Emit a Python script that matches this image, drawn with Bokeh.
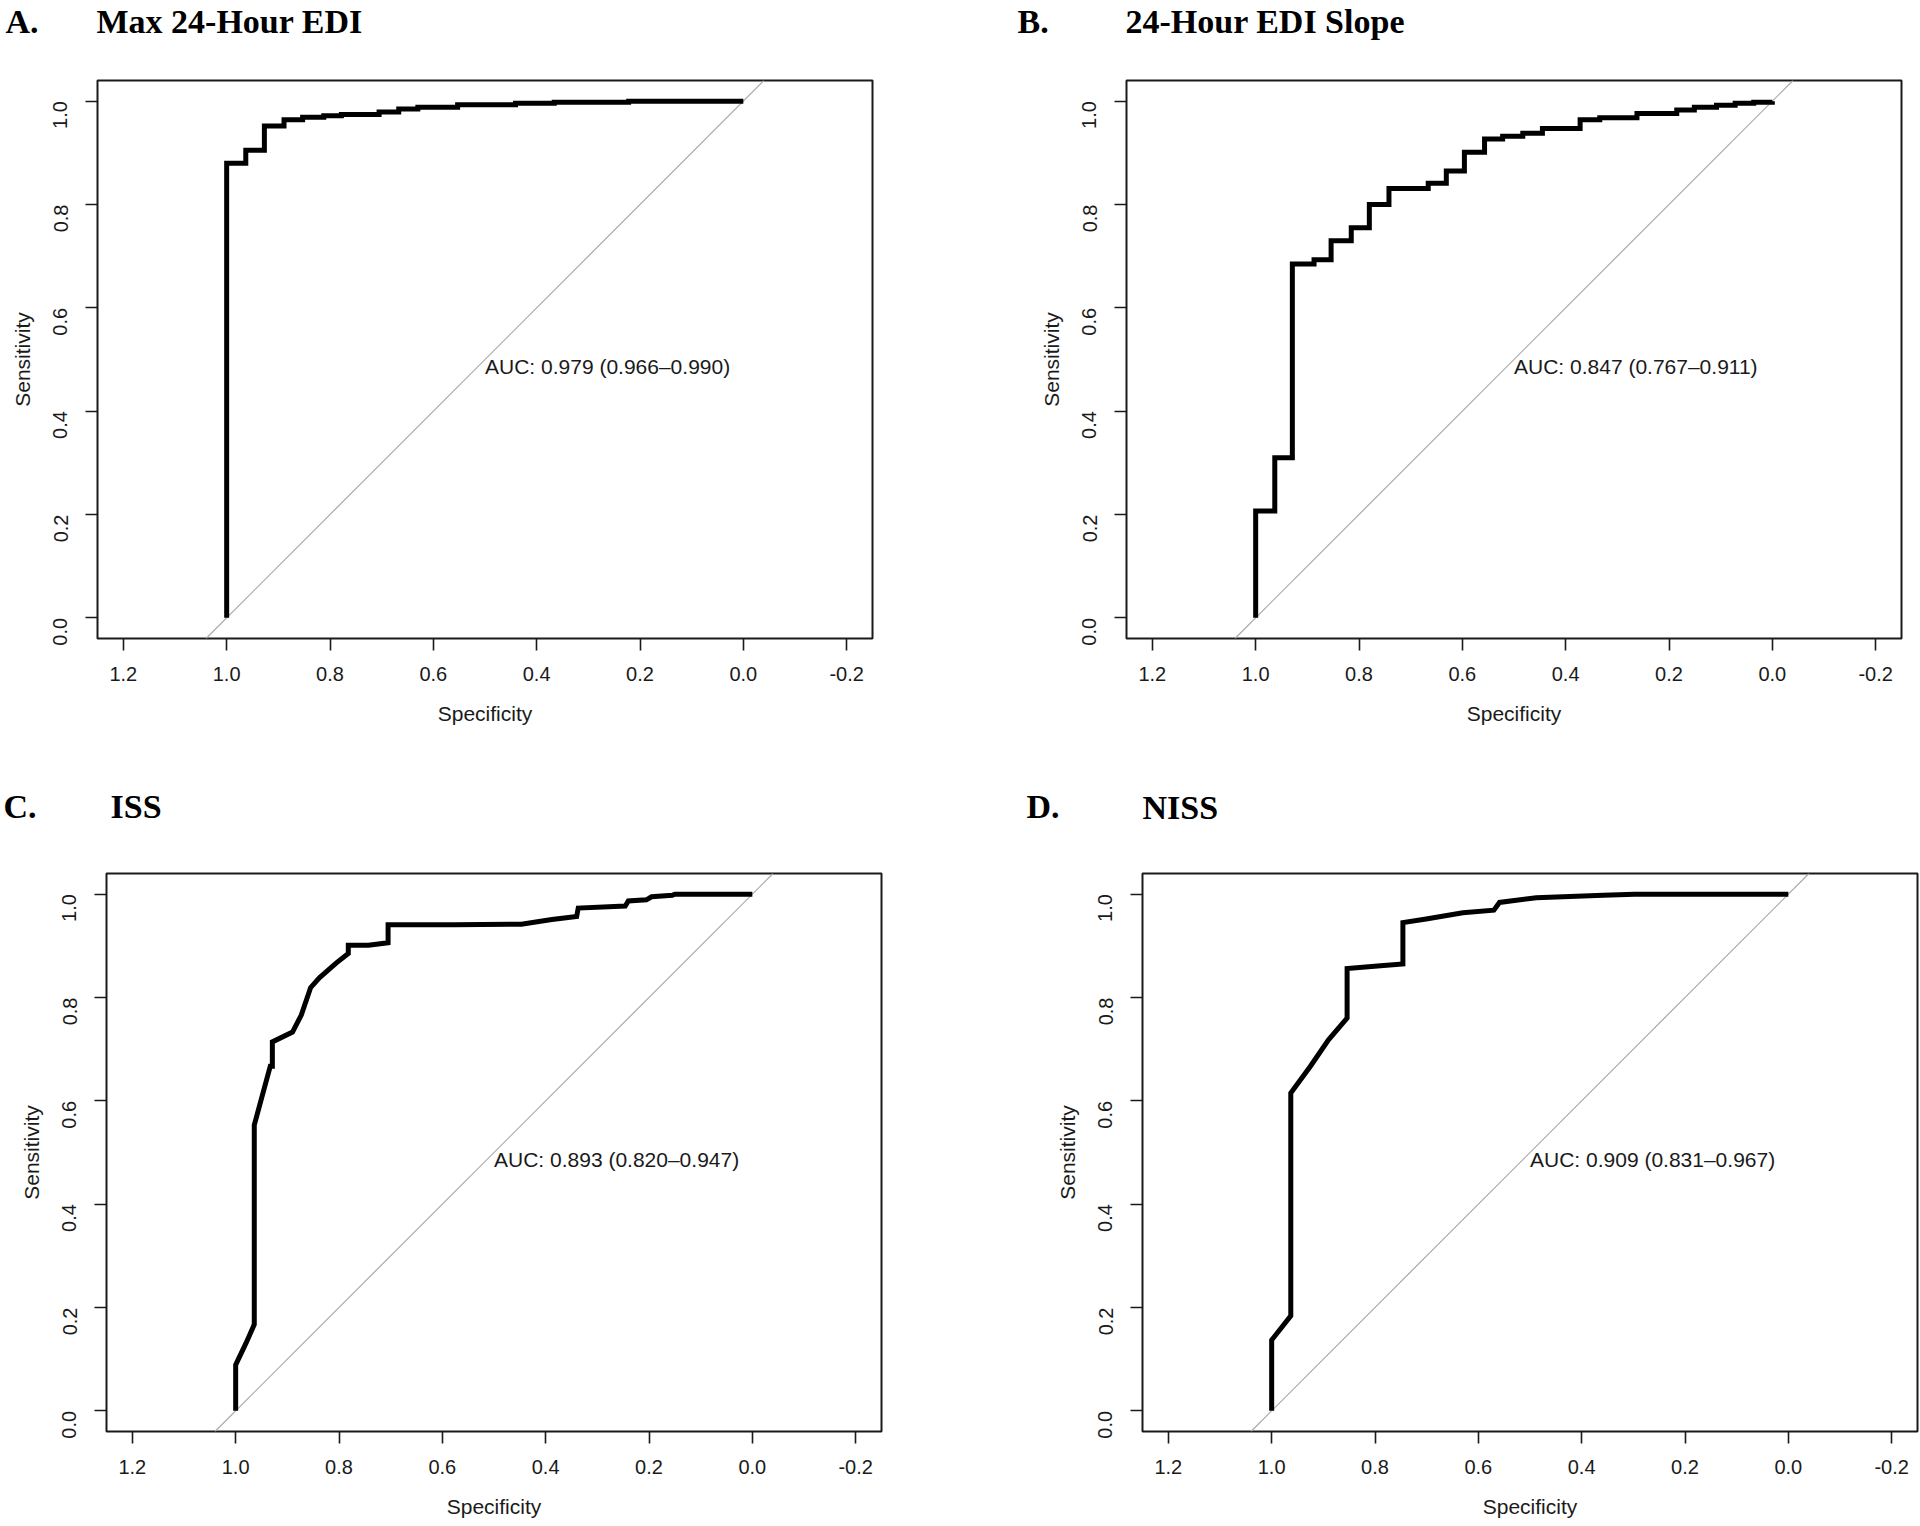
import math
from bokeh.plotting import figure
from bokeh.models import Range1d, FixedTicker, Label, Slope, BasicTickFormatter
from bokeh.core.properties import value
from bokeh.layouts import column, row
from bokeh.embed import file_html
from bokeh.resources import INLINE

# ---------------- data ----------------
PANEL_LETTERS = ["A.", "B.", "C.", "D."]
PANEL_TITLES = ["Max 24-Hour EDI", "24-Hour EDI Slope", "ISS", "NISS"]
AUC_TEXTS = [
    "AUC: 0.979 (0.966\u20130.990)",
    "AUC: 0.847 (0.767\u20130.911)",
    "AUC: 0.893 (0.820\u20130.947)",
    "AUC: 0.909 (0.831\u20130.967)",
]
AUC_X = 0.5
AUC_Y = 0.5
X_LABEL = "Specificity"
Y_LABEL = "Sensitivity"
X_TICKS = [1.2, 1.0, 0.8, 0.6, 0.4, 0.2, 0.0, -0.2]
X_TICK_LABELS = ["1.2", "1.0", "0.8", "0.6", "0.4", "0.2", "0.0", "-0.2"]
Y_TICKS = [0.0, 0.2, 0.4, 0.6, 0.8, 1.0]
Y_TICK_LABELS = ["0.0", "0.2", "0.4", "0.6", "0.8", "1.0"]

SPEC_A = [1.0, 1.0, 0.963, 0.963, 0.927, 0.927, 0.889, 0.889, 0.853, 0.853, 0.812, 0.812,
          0.778, 0.778, 0.705, 0.705, 0.667, 0.667, 0.630, 0.630, 0.553, 0.553, 0.441, 0.441,
          0.366, 0.366, 0.222, 0.222, 0.0]
SENS_A = [0.0, 0.880, 0.880, 0.905, 0.905, 0.952, 0.952, 0.964, 0.964, 0.969, 0.969, 0.972,
          0.972, 0.974, 0.974, 0.979, 0.979, 0.985, 0.985, 0.988, 0.988, 0.993, 0.993, 0.996,
          0.996, 0.998, 0.998, 1.0, 1.0]

SPEC_B = [1.0, 1.0, 0.963, 0.963, 0.929, 0.929, 0.887, 0.887, 0.854, 0.854, 0.815, 0.815,
          0.780, 0.780, 0.742, 0.742, 0.666, 0.666, 0.631, 0.631, 0.596, 0.596, 0.557, 0.557,
          0.522, 0.522, 0.483, 0.483, 0.445, 0.445, 0.372, 0.372, 0.334, 0.334, 0.262, 0.262,
          0.185, 0.185, 0.151, 0.151, 0.108, 0.108, 0.072, 0.072, 0.036, 0.036, 0.0, 0.0]
SENS_B = [0.0, 0.207, 0.207, 0.310, 0.310, 0.685, 0.685, 0.693, 0.693, 0.730, 0.730, 0.755,
          0.755, 0.800, 0.800, 0.831, 0.831, 0.841, 0.841, 0.865, 0.865, 0.901, 0.901, 0.927,
          0.927, 0.932, 0.932, 0.938, 0.938, 0.947, 0.947, 0.964, 0.964, 0.968, 0.968, 0.976,
          0.976, 0.983, 0.983, 0.988, 0.988, 0.992, 0.992, 0.996, 0.996, 0.998, 0.998, 1.0]

SPEC_C = [1.0, 1.0, 0.980, 0.964, 0.964, 0.933, 0.929, 0.929, 0.890, 0.873, 0.855, 0.838,
          0.805, 0.782, 0.782, 0.743, 0.705, 0.705, 0.577, 0.447, 0.388, 0.340, 0.337,
          0.246, 0.240, 0.205, 0.195, 0.155, 0.150, 0.0]
SENS_C = [0.0, 0.089, 0.131, 0.167, 0.553, 0.667, 0.667, 0.714, 0.733, 0.766, 0.819, 0.838,
          0.867, 0.885, 0.901, 0.901, 0.906, 0.941, 0.941, 0.942, 0.951, 0.957, 0.973,
          0.977, 0.987, 0.989, 0.995, 0.998, 1.0, 1.0]

SPEC_D = [1.0, 1.0, 0.963, 0.963, 0.925, 0.890, 0.854, 0.854, 0.795, 0.746, 0.746, 0.701,
          0.630, 0.570, 0.559, 0.488, 0.358, 0.298, 0.0]
SENS_D = [0.0, 0.137, 0.184, 0.615, 0.667, 0.718, 0.760, 0.856, 0.861, 0.865, 0.945, 0.952,
          0.964, 0.969, 0.984, 0.993, 0.998, 1.0, 1.0]

CURVES = [(SPEC_A, SENS_A), (SPEC_B, SENS_B), (SPEC_C, SENS_C), (SPEC_D, SENS_D)]

# ---------------- layout / style ----------------
PAGE_W = 1920
FRAME_W, FRAME_H = 775, 558
X_START, X_END = 1.25, -0.25
Y_START, Y_END = -0.04, 1.04
INK = "#1a1a1a"
TITLE_SIZE = "34px"

# header strips (height, [letter x, title x, letter x, title x], [baseline y from strip top])
HEADERS = [
    (50, [5, 96, 1017, 1125], [20.5, 20.5, 20.5, 20.5]),
    (60, [3, 110, 1026, 1142], [39.5, 39.5, 39.5, 41]),
]
# panels: (min_border_left, top, right, bottom)
BORDERS = [
    (97, 30, 88, 128),
    (166, 30, 19, 128),
    (106, 46, 79, 96),
    (182, 47, 3, 95),
]


def make_header(k):
    h, xs, ys = HEADERS[k]
    texts = []
    for i in (2 * k, 2 * k + 1):
        texts += [PANEL_LETTERS[i], PANEL_TITLES[i]]
    p = figure(frame_width=PAGE_W, frame_height=h, x_range=Range1d(0, PAGE_W),
               y_range=Range1d(h, 0), output_backend="svg", toolbar_location=None,
               x_axis_location=None, y_axis_location=None, min_border=0)
    p.xgrid.visible = False
    p.ygrid.visible = False
    p.outline_line_color = None
    p.background_fill_color = "white"
    p.border_fill_color = "white"
    p.text(x=xs, y=ys, text=texts, text_font=value("Liberation Serif"),
           text_font_style="bold", text_font_size=TITLE_SIZE, text_align="left",
           text_baseline="alphabetic", text_color="black")
    return p


def make_panel(i):
    bl, bt, br, bb = BORDERS[i]
    p = figure(frame_width=FRAME_W, frame_height=FRAME_H,
               x_range=Range1d(X_START, X_END), y_range=Range1d(Y_START, Y_END),
               output_backend="svg", toolbar_location=None,
               min_border_left=bl, min_border_top=bt, min_border_right=br, min_border_bottom=bb)
    p.xgrid.visible = False
    p.ygrid.visible = False
    p.background_fill_color = "white"
    p.border_fill_color = "white"
    p.outline_line_color = INK
    p.outline_line_width = 2

    p.xaxis.ticker = FixedTicker(ticks=X_TICKS)
    p.xaxis.formatter = BasicTickFormatter(precision=1, use_scientific=False)
    p.xaxis.major_label_overrides = {t: s for t, s in zip(X_TICKS, X_TICK_LABELS)}
    p.yaxis.ticker = FixedTicker(ticks=Y_TICKS)
    p.yaxis.formatter = BasicTickFormatter(precision=1, use_scientific=False)
    p.yaxis.major_label_overrides = {t: s for t, s in zip(Y_TICKS, Y_TICK_LABELS)}
    p.yaxis.major_label_orientation = math.pi / 2

    for ax in (p.xaxis, p.yaxis):
        ax.axis_line_color = None
        ax.major_tick_in = 0
        ax.major_tick_out = 12
        ax.major_tick_line_color = INK
        ax.major_tick_line_width = 1.6
        ax.minor_tick_line_color = None
        ax.major_label_text_font = "Liberation Sans"
        ax.major_label_text_font_size = "20px"
        ax.major_label_text_color = INK
        ax.axis_label_text_font = "Liberation Sans"
        ax.axis_label_text_font_size = "21px"
        ax.axis_label_text_font_style = "normal"
        ax.axis_label_text_color = INK
    p.xaxis.axis_label = X_LABEL
    p.yaxis.axis_label = Y_LABEL
    p.xaxis.major_label_standoff = 16
    p.xaxis.axis_label_standoff = 18
    p.yaxis.major_label_standoff = 25
    p.yaxis.axis_label_standoff = 10

    p.add_layout(Slope(gradient=-1, y_intercept=1, line_color="#A9A9A9",
                       line_width=1.2, level="underlay"))
    spec, sens = CURVES[i]
    p.line(spec, sens, line_width=5, line_color="black", line_join="miter")

    p.add_layout(Label(x=AUC_X, y=AUC_Y, x_units="data", y_units="data", text=AUC_TEXTS[i],
                       y_offset=5, text_font="Liberation Sans", text_font_size="21px",
                       text_align="left", text_baseline="top", text_color=INK))
    return p


panels = [make_panel(i) for i in range(4)]
layout = column(make_header(0), row(panels[0], panels[1]),
                make_header(1), row(panels[2], panels[3]))

open("out.html", "w").write(file_html(layout, INLINE))
